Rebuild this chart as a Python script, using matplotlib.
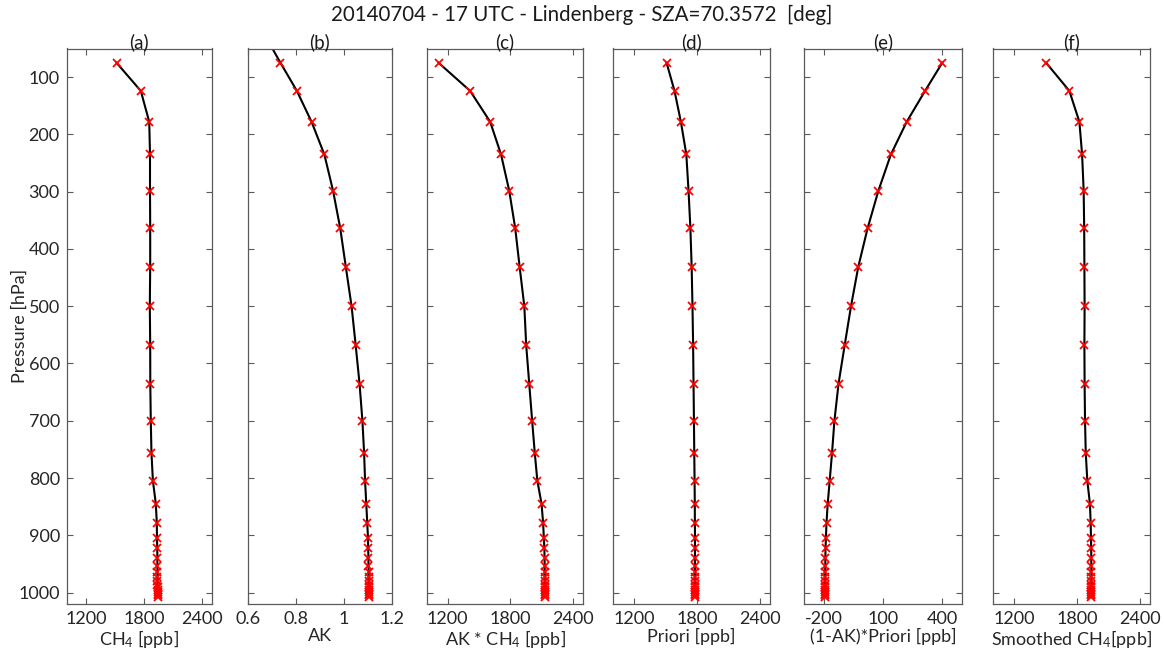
import matplotlib
matplotlib.use('Agg')
import matplotlib.pyplot as plt

plt.rcParams['font.family'] = ['Lato', 'DejaVu Sans']
plt.rcParams['mathtext.default'] = 'regular'
plt.rcParams['axes.unicode_minus'] = False

# pressure levels [hPa]
pressure = [75, 124, 178, 235, 298, 364, 431, 500, 568, 635, 700, 756, 805, 845,
            878, 904, 923, 940, 953, 964, 973, 980, 986, 991, 995, 999, 1002, 1005, 1007]

ch4 = [1515, 1765, 1852, 1860, 1860, 1862, 1862, 1858, 1862, 1863, 1868, 1875, 1890, 1920,
       1930, 1932, 1935, 1936, 1936, 1937, 1937, 1937, 1937, 1938, 1938, 1938, 1938, 1938, 1938]

ak = [0.736, 0.804, 0.865, 0.918, 0.954, 0.984, 1.007, 1.031, 1.048, 1.064, 1.076, 1.083, 1.087, 1.092,
      1.096, 1.099, 1.100, 1.101, 1.101, 1.102, 1.102, 1.102, 1.102, 1.103, 1.103, 1.103, 1.103, 1.103, 1.103]
# AK curve continues above the top level
ak_top_p = 40
ak_top = 0.689

ak_ch4 = [1114, 1416, 1608, 1712, 1790, 1848, 1890, 1935, 1953, 1982, 2010, 2035, 2060, 2100,
          2115, 2122, 2127, 2129, 2130, 2131, 2131, 2132, 2132, 2133, 2133, 2133, 2133, 2134, 2134]

priori = [1510, 1586, 1647, 1699, 1720, 1738, 1750, 1758, 1764, 1768, 1772, 1775, 1778, 1780,
          1781, 1782, 1782, 1782, 1782, 1782, 1782, 1782, 1782, 1782, 1782, 1782, 1782, 1782, 1782]

one_minus_ak_priori = [400, 313, 220, 140, 77, 22, -25, -62, -94, -125, -146, -158, -170, -180,
                       -186, -189, -191, -192, -192, -193, -193, -193, -194, -194, -194, -194, -194, -194, -194]

smoothed = [1506, 1728, 1824, 1850, 1865, 1870, 1872, 1874, 1872, 1874, 1878, 1885, 1900, 1925,
            1932, 1935, 1937, 1938, 1938, 1939, 1939, 1939, 1939, 1939, 1939, 1939, 1939, 1939, 1939]

panel_titles = ['(a)', '(b)', '(c)', '(d)', '(e)', '(f)']
xlabels = ['CH$_4$ [ppb]', 'AK', 'AK * CH$_4$ [ppb]', 'Priori [ppb]',
           '(1-AK)*Priori [ppb]', 'Smoothed CH$_4$[ppb]']
ppb_ticks = [1200, 1800, 2400]
ak_ticks = [0.6, 0.8, 1.0, 1.2]
ak_ticklabels = ['0.6', '0.8', '1', '1.2']
diff_ticks = [-200, 100, 400]
p_ticks = [100, 200, 300, 400, 500, 600, 700, 800, 900, 1000]

W, H = 1164, 661
fig = plt.figure(figsize=(W / 100, H / 100), dpi=100)

# axes boxes in pixels (left, right)
boxes = [(66.7, 212), (247.7, 392.3), (426.7, 583.3), (613.3, 770), (804, 962), (993.3, 1150)]
top, bottom = 48.5, 604

series = [ch4, ak, ak_ch4, priori, one_minus_ak_priori, smoothed]
xlims = [(1000, 2500), (0.6, 1.2), (1000, 2500), (1000, 2500), (-300, 500), (1000, 2500)]
xticks = [ppb_ticks, ak_ticks, ppb_ticks, ppb_ticks, diff_ticks, ppb_ticks]

spine_col = '#5a5a5a'
txt_col = '#262626'
for i, (l, r) in enumerate(boxes):
    ax = fig.add_axes([l / W, 1 - bottom / H, (r - l) / W, (bottom - top) / H])
    vals = series[i]
    if i == 1:
        ax.plot([ak_top] + vals, [ak_top_p] + pressure, color='black', lw=1.5, zorder=2)
    else:
        ax.plot(vals, pressure, color='black', lw=1.5, zorder=2)
    ax.plot(vals, pressure, linestyle='none', marker='x', color='red',
            markersize=6, markeredgewidth=1.3, zorder=3, clip_on=False)
    ax.set_xlim(*xlims[i])
    ax.set_ylim(1020, 50)
    ax.set_xticks(xticks[i])
    if i == 1:
        ax.set_xticklabels(ak_ticklabels)
    ax.set_yticks(p_ticks)
    if i != 0:
        ax.set_yticklabels([])
    ax.tick_params(direction='in', length=4, width=0.8, color=spine_col,
                   top=True, right=True, labelsize=13, labelcolor=txt_col, pad=5)
    for s in ax.spines.values():
        s.set_color(spine_col)
        s.set_linewidth(0.9)
    ax.set_title(panel_titles[i], fontsize=13.5, color='#1a1a1a', pad=0)
    ax.set_xlabel(xlabels[i], fontsize=13, color=txt_col, labelpad=1)
    if i == 0:
        ax.set_ylabel('Pressure [hPa]', fontsize=13, color=txt_col)
        ax.yaxis.set_label_coords((28 - l) / (r - l), 0.5)

fig.text(582 / W, 1 - 15 / H, '20140704 - 17 UTC - Lindenberg - SZA=70.3572  [deg]',
         ha='center', va='center', fontsize=14.8, color='#1a1a1a')

fig.savefig('out.png', dpi=100)
